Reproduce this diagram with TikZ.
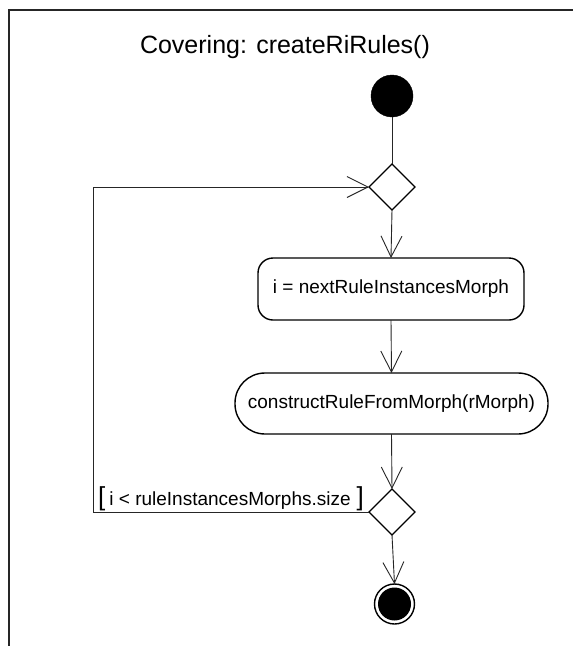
\documentclass[tikz,border=0pt]{standalone}
\usepackage{fontspec}
\setmainfont{Liberation Sans}
\usetikzlibrary{arrows.meta,shapes.geometric}

\begin{document}
\begin{tikzpicture}[x=1pt,y=-1pt,
  flow/.style={draw=black!85, line width=0.9pt,
    -{Straight Barb[length=21pt,width=21pt,line width=0.9pt]}},
  plain/.style={draw=black!85, line width=0.9pt},
  decision/.style={diamond, draw=black, line width=1.4pt, fill=white,
    minimum width=46pt, minimum height=46pt, inner sep=0pt, outer sep=0pt},
  actionbox/.style={rectangle, draw=black, line width=1.4pt, fill=white,
    font=\fontsize{19}{22}\selectfont, inner sep=0pt, outer sep=0pt},
  startnode/.style={circle, fill=black, draw=black, minimum size=42pt,
    inner sep=0pt, outer sep=0pt},
  endring/.style={circle, draw=black, line width=1.4pt, fill=white,
    minimum size=40pt, inner sep=0pt, outer sep=0pt},
  enddot/.style={circle, fill=black, minimum size=33pt, inner sep=0pt},
]
\useasboundingbox (0,0) rectangle (573,646);
\fill[white] (0,0) rectangle (573,646);

% diagram frame (top and left borders)
\draw[line width=2pt, black!85] (9,646) -- (9,10) -- (573,10);

% title
\node[anchor=base, font=\fontsize{25}{28}\selectfont] (title) at (285,53)
  {Covering: createRiRules()};

% nodes
\node[startnode] (start) at (392,96) {};
\node[decision] (d1) at (392,187) {};
\node[actionbox, rounded corners=15pt, minimum width=266pt, minimum height=62pt]
  (a1) at (391,289) {i = nextRuleInstancesMorph};
\node[actionbox, rounded corners=30pt, minimum width=313pt, minimum height=61pt]
  (a2) at (391.5,403.5) {constructRuleFromMorph(rMorph)};
\node[decision] (d2) at (392,512) {};
\node[endring] (final) at (394.5,604) {};
\node[enddot] (finaldot) at (final.center) {};

% loop-back corners
\coordinate (lb) at (93,512);
\coordinate (lt) at (93,187);

% connectors
\draw[plain] (start) -- (d1.north);
\draw[flow] (d1.south) -- (a1.north);
\draw[flow] (a1.south) -- (a2.north);
\draw[flow] (a2.south) -- (d2.north);
\draw[flow] (d2.south) -- (final.north);
\draw[flow] (d2.west) -- (lb) -- (lt) -- (d1.west);

% guard label
\node[anchor=base west, font=\fontsize{19}{22}\selectfont, inner sep=0pt]
  (guard) at (98,505)
  {{\fontsize{26}{26}\selectfont[}\hspace{4pt}i < ruleInstancesMorphs.size\hspace{6pt}{\fontsize{26}{26}\selectfont]}};
\end{tikzpicture}
\end{document}
